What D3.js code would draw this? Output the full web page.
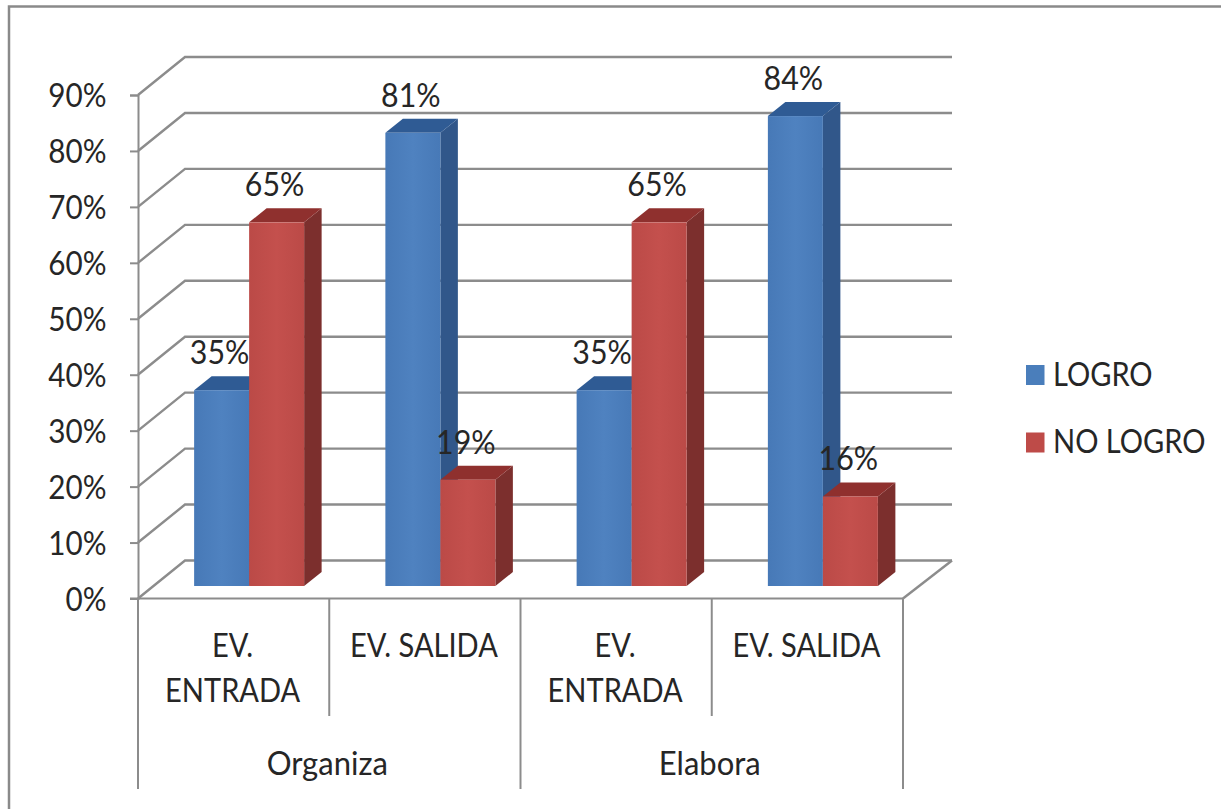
<!DOCTYPE html>
<html>
<head>
<meta charset="utf-8">
<script src="https://cdnjs.cloudflare.com/ajax/libs/d3/7.8.5/d3.min.js"></script>
<style>
html, body { margin: 0; padding: 0; background: #fff; overflow: hidden; }
svg { display: block; }
text { font-family: Lato, "Open Sans", sans-serif; fill: #262626; }
</style>
</head>
<body>
<svg width="1221" height="809"></svg>
<script>
// data
var categories = ["EV. ENTRADA|0", "EV. SALIDA|0", "EV. ENTRADA|1", "EV. SALIDA|1"];
var categoryLines = [["EV.", "ENTRADA"], ["EV. SALIDA"], ["EV.", "ENTRADA"], ["EV. SALIDA"]];
var groups = ["Organiza", "Elabora"];
var seriesNames = ["LOGRO", "NO LOGRO"];
var logro = [35, 81, 35, 84];
var noLogro = [65, 19, 65, 16];
var yTicks = [0, 10, 20, 30, 40, 50, 60, 70, 80, 90];

var svg = d3.select("svg");

// front plane of the 3d box
var plotLeft = 138, plotRight = 903, plotBottom = 598.5, plotTop = 95;
// wall offset and bar depth
var wallDx = 47, wallDy = -38;
var barDx = 15.5, barDy = -12.5, depthX = 17.5, depthY = -14;
var gridColor = "#8c8c8c";

var y = d3.scaleLinear().domain([0, 90]).range([plotBottom, plotTop]);
var x0 = d3.scaleBand().domain(categories).range([plotLeft, plotRight]);
var x1 = d3.scaleBand().domain(seriesNames).range([0, x0.bandwidth()]).paddingInner(0).paddingOuter(0.7386);

var colors = {
  "LOGRO": { front: "url(#blueFront)", side: "#31578a", top: "#2f5b94", legend: "#4a7ebb" },
  "NO LOGRO": { front: "url(#redFront)", side: "#7c2f2d", top: "#8f302e", legend: "#be4b48" }
};

// the original font is narrower than Lato, so squeeze the text sideways
function squeeze(sel, k) {
  sel.each(function() {
    var t = d3.select(this);
    t.attr("x", (+t.attr("x") || 0) / k);
    t.attr("transform", (t.attr("transform") || "") + " scale(" + k + ",1)");
  });
}

// slight sheen on the bar faces
var defs = svg.append("defs");
function faceGradient(id, c1, c2) {
  var g = defs.append("linearGradient").attr("id", id);
  g.append("stop").attr("offset", "0%").attr("stop-color", c1);
  g.append("stop").attr("offset", "50%").attr("stop-color", c2);
  g.append("stop").attr("offset", "100%").attr("stop-color", c1);
}
faceGradient("blueFront", "#4779b7", "#4f82c0");
faceGradient("redFront", "#bb4a47", "#c4504d");

// chart frame, only top and left are visible
svg.append("path")
  .attr("d", "M9,809V6.5H1221")
  .attr("fill", "none")
  .attr("stroke", "#8a8a8a")
  .attr("stroke-width", 2.5);

//////////// WALLS ////////////
var grid = svg.append("g")
  .attr("fill", "none")
  .attr("stroke", gridColor)
  .attr("stroke-width", 2.4);

grid.selectAll(".wall")
  .data(yTicks)
  .enter().append("path")
  .attr("class", "wall")
  .attr("d", function(d) {
    return d3.line()([
      [plotLeft, y(d)],
      [plotLeft + wallDx, y(d) + wallDy],
      [plotRight + wallDx + 2, y(d) + wallDy]
    ]);
  });

// floor edge on the right
grid.append("line")
  .attr("x1", plotRight).attr("y1", plotBottom)
  .attr("x2", plotRight + wallDx + 2).attr("y2", y(0) + wallDy);

//////////// AXES ////////////
var yAxis = d3.axisLeft(y)
  .tickValues(yTicks)
  .tickSize(8)
  .tickPadding(4)
  .tickFormat(function(d) { return d + "%"; });

var yG = svg.append("g").attr("transform", "translate(" + plotLeft + ",0)").call(yAxis);
yG.select(".domain").attr("stroke", gridColor).attr("stroke-width", 2);
yG.selectAll(".tick line").attr("stroke", gridColor).attr("stroke-width", 2);
yG.selectAll(".tick text")
  .attr("font-size", 33)
  .attr("font-family", "Lato")
  .attr("dy", "0.36em")
  .attr("x", -31.5)
  .attr("text-anchor", "end")
  .style("fill", "#262626")
  .call(squeeze, 0.9);

// x axis: baseline and the two level separators
var sep = svg.append("g").attr("stroke", gridColor).attr("stroke-width", 2);
sep.append("line")
  .attr("x1", plotLeft - 8).attr("x2", plotRight)
  .attr("y1", plotBottom).attr("y2", plotBottom);
categories.forEach(function(c, i) {
  if (i == 0) return;
  sep.append("line")
    .attr("x1", x0(c)).attr("x2", x0(c))
    .attr("y1", plotBottom).attr("y2", i == 2 ? 789 : 716);
});
[plotLeft, plotRight].forEach(function(xp) {
  sep.append("line")
    .attr("x1", xp).attr("x2", xp)
    .attr("y1", plotBottom).attr("y2", 789);
});

svg.selectAll(".cat")
  .data(categories)
  .enter().append("text")
  .attr("class", "cat")
  .attr("text-anchor", "middle")
  .attr("font-size", 33)
  .attr("transform", function(d) {
    return "translate(" + (x0(d) + x0.bandwidth() / 2 - 1) + ",0)";
  })
  .each(function(d, i) {
    var t = d3.select(this);
    categoryLines[i].forEach(function(line, j) {
      t.append("tspan").attr("x", 0).attr("y", 657 + j * 45).text(line);
    });
  })
  .call(squeeze, 0.88);

svg.selectAll(".group")
  .data(groups)
  .enter().append("text")
  .attr("class", "group")
  .attr("text-anchor", "middle")
  .attr("font-size", 33)
  .attr("x", function(d, i) { return plotLeft + x0.bandwidth() * (i * 2 + 1) - 2; })
  .attr("y", 775)
  .text(function(d) { return d; })
  .call(squeeze, 0.94);

//////////// BARS ////////////
var barData = [];
categories.forEach(function(c, i) {
  barData.push({ cat: c, series: "LOGRO", value: logro[i] });
  barData.push({ cat: c, series: "NO LOGRO", value: noLogro[i] });
});

var bars = svg.selectAll(".bar")
  .data(barData)
  .enter().append("g")
  .attr("class", "bar");

function barX(d) { return x0(d.cat) + x1(d.series) + barDx; }

bars.append("path")
  .attr("fill", function(d) { return colors[d.series].side; })
  .attr("d", function(d) {
    var r = barX(d) + x1.bandwidth(), t = y(d.value) + barDy, b = y(0) + barDy;
    return d3.line()([[r, t], [r + depthX, t + depthY], [r + depthX, b + depthY], [r, b]]) + "Z";
  });

bars.append("path")
  .attr("fill", function(d) { return colors[d.series].top; })
  .attr("d", function(d) {
    var l = barX(d), r = l + x1.bandwidth(), t = y(d.value) + barDy;
    return d3.line()([[l, t], [l + depthX, t + depthY], [r + depthX, t + depthY], [r, t]]) + "Z";
  });

bars.append("rect")
  .attr("x", barX)
  .attr("y", function(d) { return y(d.value) + barDy; })
  .attr("width", x1.bandwidth())
  .attr("height", function(d) { return y(0) - y(d.value); })
  .attr("fill", function(d) { return colors[d.series].front; });

// labels go last, they sit over neighbouring bars
svg.selectAll(".label")
  .data(barData)
  .enter().append("text")
  .attr("class", "label")
  .attr("text-anchor", "middle")
  .attr("font-size", 33)
  .attr("x", function(d) { return barX(d) + x1.bandwidth() / 2 - 2; })
  .attr("y", function(d) { return y(d.value) + barDy - 26; })
  .text(function(d) { return d.value + "%"; })
  .call(squeeze, 0.92);

//////////// LEGEND ////////////
var legend = svg.selectAll(".legend")
  .data(seriesNames)
  .enter().append("g")
  .attr("class", "legend")
  .attr("transform", function(d, i) { return "translate(1026," + (365 + i * 67.5) + ")"; });

legend.append("rect")
  .attr("width", 18.5)
  .attr("height", 20)
  .attr("fill", function(d) { return colors[d].legend; });

legend.append("text")
  .attr("x", 27)
  .attr("y", 20.5)
  .attr("font-size", 33)
  .text(function(d) { return d; })
  .call(squeeze, 0.88);
</script>
</body>
</html>
